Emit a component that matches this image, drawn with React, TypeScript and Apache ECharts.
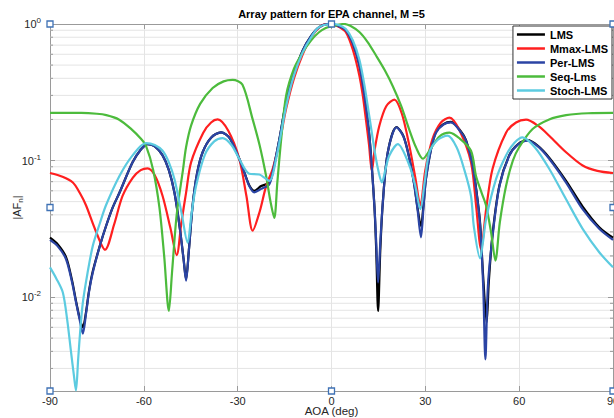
import React, { useEffect, useRef } from "react";
import * as echarts from "echarts";

const TITLE = "Array pattern for EPA channel, M =5";
const X_TICKS_MIN = -90;
const X_TICKS_MAX = 90;
const X_INTERVAL = 30;
const Y_MIN = 0.00205;
const Y_MAX = 1;
const MINOR_Y = [0.003, 0.004, 0.005, 0.006, 0.007, 0.008, 0.009, 0.02, 0.03, 0.04, 0.05, 0.06, 0.07, 0.08, 0.09, 0.2, 0.3, 0.4, 0.5, 0.6, 0.7, 0.8, 0.9];

const seriesNames = ["LMS", "Mmax-LMS", "Per-LMS", "Seq-Lms", "Stoch-LMS"];
const seriesColors = ["#000000", "#ff1f1f", "#2b44a4", "#4cbb3c", "#5ccbe0"];

// Per-LMS
const perAngles = [-90, -87.5, -84.9, -83, -81.7, -80.5, -79.5, -78.5, -77.5, -76.3, -74, -72.1, -70, -67.8, -63.6, -61, -58.8, -56.5, -54, -52, -50.2, -48.5, -47.3, -46.5, -45.6, -44.4, -43, -41.2, -38.5, -35.3, -32.5, -29.5, -27.8, -26.3, -24.7, -22.5, -19.9, -18.8, -16.5, -14.5, -12, -9.2, -6.5, -3.9, -1, 0.4, 2.5, 4.6, 6.8, 8.9, 10.5, 12.1, 13.7, 14.3, 14.9, 15.6, 16.4, 18, 20.8, 23, 24.9, 26.5, 27.5, 28.6, 29.4, 30.2, 31.8, 33.4, 35.8, 38.2, 41.5, 43, 45, 46.5, 47.5, 48.5, 49.2, 50, 51.5, 53.7, 56.8, 59.5, 62.7, 66, 69.6, 75, 80.3, 85.6, 90];
const perValues = [0.0262, 0.0235, 0.019, 0.013, 0.0092, 0.0068, 0.0054, 0.0075, 0.011, 0.0152, 0.024, 0.033, 0.045, 0.058, 0.097, 0.12, 0.132, 0.127, 0.109, 0.085, 0.058, 0.032, 0.019, 0.0132, 0.022, 0.047, 0.08, 0.115, 0.147, 0.161, 0.145, 0.103, 0.081, 0.065, 0.0585, 0.062, 0.067, 0.082, 0.15, 0.27, 0.43, 0.64, 0.82, 0.95, 1.0, 0.995, 0.96, 0.9, 0.72, 0.5, 0.3, 0.152, 0.047, 0.025, 0.0128, 0.025, 0.049, 0.115, 0.175, 0.15, 0.103, 0.065, 0.044, 0.0274, 0.045, 0.073, 0.12, 0.16, 0.183, 0.19, 0.16, 0.14, 0.095, 0.055, 0.034, 0.012, 0.0035, 0.012, 0.028, 0.065, 0.108, 0.13, 0.14, 0.127, 0.103, 0.069, 0.044, 0.0316, 0.0262];

// LMS
const lmsAngles = [-90, -87.5, -84.9, -83, -81.7, -80.5, -79.5, -78.5, -77.5, -76.3, -74, -72.1, -70, -67.8, -63.6, -61, -58.8, -56.5, -54, -52, -50.2, -48.5, -47.3, -46.5, -45.6, -44.4, -43, -41.2, -38.5, -35.3, -32.5, -29.5, -27.8, -26.3, -24.7, -22.5, -19.9, -18.8, -16.5, -14.5, -12, -9.2, -6.5, -3.9, -1, 0.4, 2.5, 4.6, 6.8, 8.9, 10.5, 12.1, 13.7, 14.3, 14.9, 15.6, 16.4, 18, 20.8, 23, 24.9, 26.5, 27.5, 28.6, 29.4, 30.2, 31.8, 33.4, 35.8, 38.2, 41.5, 43, 45, 46.5, 47.5, 48.5, 49.6, 50.3, 51.5, 53.7, 56.8, 59.5, 62.7, 66, 69.6, 75, 80.3, 85.6, 90];
const lmsValues = [0.0272, 0.0243, 0.0197, 0.0134, 0.0094, 0.007, 0.006, 0.0077, 0.0112, 0.0155, 0.024, 0.033, 0.045, 0.058, 0.097, 0.12, 0.132, 0.127, 0.109, 0.085, 0.058, 0.032, 0.019, 0.0135, 0.022, 0.047, 0.08, 0.115, 0.147, 0.161, 0.145, 0.103, 0.081, 0.066, 0.06, 0.065, 0.069, 0.082, 0.15, 0.27, 0.43, 0.64, 0.82, 0.95, 1.0, 0.995, 0.96, 0.9, 0.72, 0.5, 0.3, 0.152, 0.047, 0.022, 0.0079, 0.022, 0.049, 0.115, 0.176, 0.151, 0.104, 0.066, 0.045, 0.033, 0.047, 0.074, 0.121, 0.162, 0.185, 0.192, 0.162, 0.141, 0.096, 0.056, 0.035, 0.014, 0.0065, 0.013, 0.029, 0.066, 0.109, 0.131, 0.141, 0.128, 0.105, 0.071, 0.046, 0.0325, 0.0272];

// Mmax-LMS
const mmaxAngles = [-90, -86, -82.7, -80.5, -78.5, -75.5, -72.4, -69.5, -66.8, -63.5, -61, -58.8, -56.5, -54, -51.5, -49.5, -48, -46.5, -44.9, -41, -38.5, -36.4, -33, -29.5, -27.2, -25.2, -23, -20.9, -18.8, -16.5, -14.5, -12, -9.2, -6.5, -3.9, -1.5, 0.4, 2.5, 4.6, 6.8, 8.9, 10, 11, 12, 12.9, 13.8, 15.3, 17.5, 20.1, 22.5, 24.9, 26.8, 28.4, 30, 32.3, 35, 37.7, 41, 44.6, 46.3, 47.8, 49.5, 51.5, 55.8, 59, 62.2, 66, 69.6, 75, 80.3, 85, 90];
const mmaxValues = [0.081, 0.076, 0.069, 0.058, 0.047, 0.031, 0.0222, 0.034, 0.055, 0.075, 0.085, 0.0877, 0.078, 0.055, 0.032, 0.0203, 0.035, 0.058, 0.097, 0.16, 0.19, 0.2, 0.165, 0.103, 0.055, 0.0306, 0.042, 0.065, 0.087, 0.14, 0.24, 0.4, 0.6, 0.8, 0.946, 1.0, 0.99, 0.95, 0.87, 0.65, 0.42, 0.3, 0.2, 0.13, 0.084, 0.12, 0.18, 0.25, 0.279, 0.22, 0.128, 0.075, 0.047, 0.085, 0.144, 0.19, 0.206, 0.165, 0.097, 0.045, 0.0225, 0.045, 0.087, 0.16, 0.19, 0.199, 0.18, 0.152, 0.115, 0.092, 0.084, 0.081];

// Seq-Lms
const seqAngles = [-90, -80, -75, -72, -68, -64, -61, -59.3, -57, -55, -53.5, -52, -51, -49.5, -47.5, -46.5, -44.9, -42, -38, -34.5, -31.6, -28.5, -25.2, -23, -20.9, -19.5, -18.3, -17.3, -16, -14.5, -12, -9.2, -6.5, -4, -2, 0, 2.4, 4, 6, 9, 11.5, 14.2, 17, 19.6, 22.3, 24.8, 27, 29.2, 31.5, 34.5, 37.7, 41, 44.6, 46.2, 48, 49.4, 51, 52.4, 53.8, 55.8, 58, 60, 64.3, 69.6, 75, 82, 90];
const seqValues = [0.223, 0.223, 0.22, 0.215, 0.2, 0.17, 0.145, 0.128, 0.085, 0.045, 0.02, 0.0079, 0.015, 0.04, 0.085, 0.125, 0.18, 0.26, 0.34, 0.38, 0.39, 0.36, 0.2, 0.13, 0.077, 0.05, 0.038, 0.07, 0.15, 0.3, 0.47, 0.62, 0.76, 0.87, 0.93, 0.96, 0.99, 1.0, 0.97, 0.87, 0.74, 0.59, 0.46, 0.35, 0.25, 0.17, 0.125, 0.103, 0.12, 0.15, 0.16, 0.145, 0.118, 0.077, 0.058, 0.047, 0.03, 0.0185, 0.035, 0.065, 0.1, 0.125, 0.17, 0.2, 0.215, 0.222, 0.223];

// Stoch-LMS
const stochAngles = [-90, -88, -85.9, -84.5, -83.3, -82.3, -81.7, -81, -80.3, -79.5, -78, -76.3, -74, -72.1, -67.8, -63.6, -59.3, -56.5, -54, -52, -50.2, -48, -46, -44.8, -43.3, -40.5, -37.5, -34.8, -32, -29.5, -26.3, -23.1, -19.9, -17.7, -14.5, -12, -9.2, -6.5, -3.9, 0.5, 2.5, 4.6, 6.8, 8.9, 10.5, 12.1, 14, 15.2, 16.1, 17.2, 18.5, 21.2, 24.9, 26.8, 28.4, 29.8, 31.3, 34, 37.1, 40, 42.5, 44.6, 45.5, 47.5, 48.5, 49.4, 52.6, 55.8, 58.5, 61.1, 65, 69.6, 75, 80.3, 85.6, 90];
const stochValues = [0.0165, 0.0137, 0.0108, 0.0068, 0.004, 0.0026, 0.00207, 0.0035, 0.0058, 0.0091, 0.015, 0.0238, 0.035, 0.047, 0.077, 0.109, 0.134, 0.13, 0.118, 0.097, 0.073, 0.042, 0.025, 0.04, 0.065, 0.11, 0.138, 0.146, 0.13, 0.103, 0.08, 0.079, 0.071, 0.103, 0.25, 0.42, 0.62, 0.8, 0.95, 1.0, 0.98, 0.92, 0.76, 0.55, 0.36, 0.21, 0.11, 0.08, 0.069, 0.085, 0.109, 0.132, 0.092, 0.065, 0.044, 0.07, 0.115, 0.142, 0.152, 0.125, 0.085, 0.055, 0.033, 0.0192, 0.026, 0.037, 0.073, 0.109, 0.135, 0.148, 0.125, 0.087, 0.052, 0.0316, 0.0213, 0.0165];

const FONT = "'Liberation Sans', Arial, sans-serif";
const GRID = { left: 50, right: 1, top: 24, bottom: 27 };
const W = 614;
const H = 418;

function pairs(xs: number[], ys: number[]) {
  return xs.map((x, i) => [x, ys[i]]);
}

export default function App() {
  const ref = useRef<HTMLDivElement>(null);
  useEffect(() => {
    if (!ref.current) return;
    const chart = echarts.init(ref.current, null, { renderer: "svg" });
    const dataSets = [
      pairs(lmsAngles, lmsValues),
      pairs(mmaxAngles, mmaxValues),
      pairs(perAngles, perValues),
      pairs(seqAngles, seqValues),
      pairs(stochAngles, stochValues),
    ];
    const px0 = GRID.left;
    const px1 = W - GRID.right;
    const py0 = GRID.top;
    const py1 = H - GRID.bottom;
    const handles = [
      [px0, py0], [(px0 + px1) / 2, py0], [px1, py0],
      [px0, (py0 + py1) / 2], [px1, (py0 + py1) / 2],
      [px0, py1], [(px0 + px1) / 2, py1], [px1, py1],
    ];
    const axisColor = "#9a9a9a";
    const gridColor = "#e4e4e4";
    const option: any = {
      animation: false,
      backgroundColor: "#ffffff",
      textStyle: { fontFamily: FONT },
      title: {
        text: TITLE,
        left: (px0 + px1) / 2,
        textAlign: "center",
        top: 8,
        padding: 0,
        textStyle: { fontSize: 11, fontWeight: "bold", color: "#000", fontFamily: FONT },
      },
      legend: {
        data: seriesNames,
        orient: "vertical",
        right: 2,
        top: 26,
        padding: [2, 4, 2, 4],
        itemGap: 1,
        itemWidth: 28,
        itemHeight: 2.5,
        itemTextGap: 3,
        icon: "rect",
        backgroundColor: "#ffffff",
        borderColor: "#333333",
        borderWidth: 1,
        borderRadius: 0,
        textStyle: { fontSize: 11, fontWeight: "bold", color: "#000", fontFamily: FONT, lineHeight: 13 },
      },
      grid: { left: GRID.left, right: GRID.right, top: GRID.top, bottom: GRID.bottom, containLabel: false, outerBoundsMode: "none" },
      xAxis: [
        {
          type: "value",
          min: X_TICKS_MIN,
          max: X_TICKS_MAX,
          interval: X_INTERVAL,
          name: "AOA (deg)",
          nameLocation: "middle",
          nameGap: 14,
          nameMoveOverlap: false,
          nameTextStyle: { fontSize: 11.5, color: "#262626", fontFamily: FONT },
          axisLine: { show: true, onZero: false, lineStyle: { color: axisColor, width: 1 } },
          axisTick: { show: true, inside: true, length: 5, lineStyle: { color: axisColor } },
          axisLabel: { fontSize: 11, color: "#262626", margin: 4, fontFamily: FONT },
          splitLine: { show: true, lineStyle: { color: gridColor, width: 1 } },
        },
        {
          type: "value",
          position: "top",
          min: X_TICKS_MIN,
          max: X_TICKS_MAX,
          interval: X_INTERVAL,
          axisLine: { show: true, onZero: false, lineStyle: { color: axisColor, width: 1 } },
          axisTick: { show: true, inside: true, length: 5, lineStyle: { color: axisColor } },
          axisLabel: { show: false },
          splitLine: { show: false },
        },
      ],
      yAxis: [
        {
          type: "log",
          logBase: 10,
          min: Y_MIN,
          max: Y_MAX,
          name: "|AF{sub|n}|",
          nameLocation: "middle",
          nameGap: 26,
          nameMoveOverlap: false,
          nameTextStyle: {
            fontSize: 11,
            color: "#262626",
            fontFamily: FONT,
            rich: { sub: { fontSize: 8, color: "#262626", fontFamily: FONT, padding: [6, 0, 0, 0] } },
          },
          axisLine: { show: true, onZero: false, lineStyle: { color: axisColor, width: 1 } },
          axisTick: { show: true, inside: true, length: 5, lineStyle: { color: axisColor } },
          axisLabel: {
            fontSize: 11,
            color: "#262626",
            margin: 9,
            fontFamily: FONT,
            formatter: (v: number) => {
              const e = Math.round(Math.log10(v));
              if (Math.abs(v - Math.pow(10, e)) / Math.pow(10, e) > 1e-6) return "";
              return "10{sup|" + e + "}";
            },
            rich: { sup: { fontSize: 8, color: "#262626", fontFamily: FONT, padding: [0, 0, 7, 0] } },
          },
          splitLine: { show: true, lineStyle: { color: gridColor, width: 1 } },
        },
        {
          type: "log",
          logBase: 10,
          position: "right",
          min: Y_MIN,
          max: Y_MAX,
          axisLine: { show: true, onZero: false, lineStyle: { color: axisColor, width: 1 } },
          axisTick: { show: true, inside: true, length: 5, lineStyle: { color: axisColor } },
          axisLabel: { show: false },
          splitLine: { show: false },
        },
      ],
      series: [
        {
          type: "custom",
          name: "minor",
          silent: true,
          z: 1,
          xAxisIndex: 0,
          yAxisIndex: 0,
          data: MINOR_Y.map((v) => [0, v]),
          encode: { x: 0, y: 1 },
          renderItem: (params: any, api: any) => {
            const v = api.value(1);
            const a = api.coord([X_TICKS_MIN, v]);
            const b = api.coord([X_TICKS_MAX, v]);
            return {
              type: "group",
              children: [
                { type: "line", shape: { x1: a[0], y1: a[1], x2: b[0], y2: b[1] }, style: { stroke: gridColor, lineWidth: 1 } },
                { type: "line", shape: { x1: a[0], y1: a[1], x2: a[0] + 3, y2: a[1] }, style: { stroke: axisColor, lineWidth: 1 } },
                { type: "line", shape: { x1: b[0] - 3, y1: b[1], x2: b[0], y2: b[1] }, style: { stroke: axisColor, lineWidth: 1 } },
              ],
            };
          },
        },
        ...seriesNames.map((name, i) => ({
          type: "line",
          name,
          data: dataSets[i],
          xAxisIndex: 0,
          yAxisIndex: 0,
          showSymbol: false,
          symbol: "none",
          smooth: 0.3,
          z: 3,
          color: seriesColors[i],
          lineStyle: { color: seriesColors[i], width: 2.2 },
          emphasis: { disabled: true },
        })),
      ],
      graphic: handles.map(([x, y]) => ({
        type: "rect",
        shape: { x: x - 3, y: y - 3, width: 6, height: 6 },
        style: { fill: "#ffffff", stroke: "#3f72b5", lineWidth: 1.3 },
        z: 100,
      })),
    };
    chart.setOption(option);
    return () => chart.dispose();
  }, []);
  return <div ref={ref} style={{ position: "fixed", left: 0, top: 0, width: W, height: H }} />;
}
